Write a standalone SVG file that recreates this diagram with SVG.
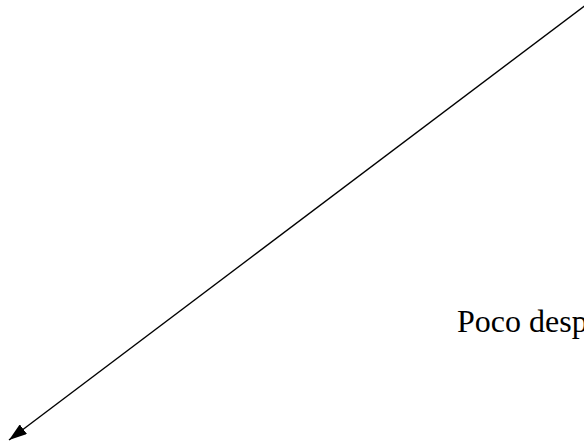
<svg xmlns="http://www.w3.org/2000/svg" width="584" height="443" viewBox="0 0 584 443">
<defs>
<marker id="arrow" viewBox="0 0 18 12" refX="18" refY="6" markerWidth="18" markerHeight="12" markerUnits="userSpaceOnUse" orient="auto">
<path d="M0,0 L18,6 L0,12 z" fill="#000"/>
</marker>
<style>
.lbl{font-family:"Liberation Serif","Times New Roman",serif;font-size:32px;fill:#000}
</style>
</defs>
<rect width="584" height="443" fill="#fff"/>
<g id="connectors">
<line x1="587" y1="4" x2="9" y2="440" stroke="#000" stroke-width="1.4" marker-end="url(#arrow)"/>
</g>
<g id="label">
<text class="lbl" x="457" y="332">Poco desp</text>
</g>
</svg>
